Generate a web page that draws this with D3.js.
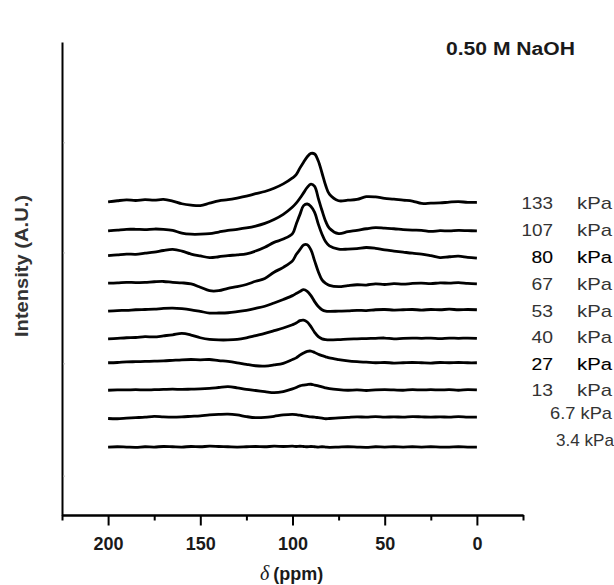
<!DOCTYPE html>
<html><head><meta charset="utf-8">
<script src="https://cdn.jsdelivr.net/npm/d3@7"></script>
<style>body{margin:0;background:#fff}</style>
</head><body><svg id="c" width="614" height="585"></svg>
<script>
// chemical shift grid (ppm)
const ppm = [200,195,190,185,180,175,170,165,160,155,150,145,140,135,130,125,120,115,110,105,
             100,98,96,94,92,90,88,86,84,82,80,
             75,70,65,60,55,50,45,40,35,30,25,20,15,10,5,0];
const pressures = ["133","107","80","67","53","40","27","13","6.7","3.4"];
const boldLabels = ["80","27"];
const offsets = [115,104.5,94.5,85,75.5,65,56,46,36,25];

// intensities (A.U.) relative to each spectrum's baseline
const s133 = [0.2,0.6,0.9,0.7,1.0,0.8,1.1,0.5,-0.5,-1.0,-1.2,-0.3,0.6,1.0,1.6,2.3,3.2,4.0,5.2,6.8,
              9.0,10.2,12.6,14.8,16.8,18.0,17.8,15.2,10.8,6.2,3.0,
              0.6,0.8,1.1,2.1,2.0,1.5,1.2,0.8,0.5,-0.4,-0.3,-0.2,0.1,0.3,0.0,0.0];
const s107 = [0.0,0.3,0.6,0.6,0.5,0.7,0.6,0.2,-0.8,-1.2,-1.2,-1.0,-0.4,0.2,0.6,1.1,1.8,2.8,4.2,6.1,
              8.8,10.2,12.0,14.0,16.0,17.2,16.4,12.0,7.5,3.5,1.0,
              -1.0,-0.3,0.2,0.8,1.2,1.0,0.8,0.5,0.3,0.2,-0.2,0.1,0.0,0.2,0.1,0.0];
const s80 = [0.9,1.2,1.5,1.4,1.8,2.2,2.8,3.2,2.6,1.5,0.8,0.2,0.5,0.9,1.2,1.6,2.6,4.0,5.8,7.0,
             9.0,12.5,16.0,19.3,19.9,19.0,16.8,12.5,8.8,6.0,4.5,
             3.3,3.3,3.5,3.9,3.6,3.0,2.6,2.2,1.8,1.5,0.9,0.2,0.5,0.7,0.3,0.0];
const s67 = [0.3,0.4,0.6,0.5,0.6,0.8,0.9,0.6,0.4,0.0,-1.2,-2.5,-2.5,-1.6,-1.0,-0.2,1.0,2.0,4.3,6.1,
             8.5,10.8,12.6,14.3,14.4,12.5,8.5,4.5,1.5,0.2,-0.5,
             -1.0,-0.6,-0.3,-0.4,0.0,-0.2,0.1,-0.1,0.2,0.3,0.1,0.4,0.3,0.5,0.2,0.0];
const s53 = [-0.5,-0.3,-0.2,0.0,0.1,0.2,0.5,0.6,0.4,0.0,-0.6,-1.2,-1.2,-1.1,-0.7,-0.2,0.5,1.3,2.5,3.8,
             5.2,6.0,6.7,7.4,6.8,5.2,3.0,1.2,0.0,-0.5,-0.6,
             -0.5,-0.4,-0.2,-0.3,0.0,0.1,-0.1,0.0,0.1,-0.1,0.1,0.0,0.2,0.0,0.1,0.0];
const s40 = [-0.2,0.0,0.2,0.3,0.6,0.5,0.9,1.3,1.8,1.2,0.2,-0.4,-0.6,-0.6,-0.4,0.2,1.0,1.8,2.8,3.8,
             5.0,5.6,6.5,6.7,6.0,4.3,2.2,0.6,-0.2,-0.5,-0.6,
             -0.5,-0.3,-0.2,-0.1,0.0,0.1,-0.2,0.0,0.1,0.0,0.1,-0.1,0.1,0.0,0.1,0.0];
const s27 = [0.0,0.1,0.3,0.4,0.5,0.6,0.7,0.9,1.1,1.2,1.1,1.2,0.8,0.5,0.0,-0.6,-1.1,-1.2,-0.8,-0.2,
             1.2,1.8,2.8,3.6,4.2,4.3,3.8,3.1,2.6,2.2,1.8,
             1.2,0.7,0.4,0.2,0.0,0.1,-0.1,0.0,0.1,0.0,-0.1,0.1,0.0,0.1,0.0,0.0];
const s13 = [-0.1,0.0,0.0,0.1,0.0,0.1,0.2,0.3,0.2,0.3,0.4,0.6,0.9,1.2,0.8,0.2,-0.2,-0.6,-1.0,-0.6,
             0.4,0.9,1.5,1.8,2.0,2.1,1.8,1.5,1.1,0.8,0.5,
             0.1,-0.1,0.0,-0.2,0.0,0.1,0.0,-0.1,0.1,0.0,0.1,0.0,0.1,-0.1,0.1,0.0];
const s6_7 = [-0.5,-0.6,-0.4,-0.2,0.0,0.3,0.1,0.0,0.1,0.3,0.5,0.8,1.0,1.1,0.8,0.2,-0.2,-0.1,0.3,0.8,
              1.0,0.9,0.7,0.5,0.3,0.1,0.0,-0.2,-0.4,-0.6,-0.5,
              -0.3,-0.1,0.1,0.0,0.2,0.0,0.1,0.0,0.2,0.1,0.0,0.1,0.0,0.2,0.0,0.0];
const s3_4 = [0.0,0.1,0.0,-0.1,0.1,0.0,0.2,0.1,0.0,0.2,0.1,0.3,0.2,0.1,0.0,0.1,0.2,0.1,0.3,0.2,
              0.3,0.2,0.3,0.2,0.1,0.2,0.1,0.0,0.1,0.0,-0.1,
              0.0,0.1,0.0,-0.1,0.1,0.0,0.1,0.0,0.1,0.0,0.1,0.0,0.0,0.1,0.0,0.0];
const spectra = [s133,s107,s80,s67,s53,s40,s27,s13,s6_7,s3_4];

const xTicksMajor = [200,150,100,50,0];
const xTicksMinor = [225,175,125,75,25,-25];
const yFaintTicks = [14.3,55.6,96.4,136.9];

const svg = d3.select("#c");
const x = d3.scaleLinear().domain([225,-25]).range([62,523]);
const y = d3.scaleLinear().domain([0,174]).range([515,42]);

// spectra
const line = d3.line().x(d=>x(d[0])).y(d=>y(d[1])).curve(d3.curveCatmullRom.alpha(0.5));
spectra.forEach((s,i)=>{
  const pts = ppm.map((p,j)=>[p, offsets[i]+s[j]]);
  svg.append("path").attr("d",line(pts)).attr("fill","none")
     .attr("stroke","#000").attr("stroke-width",2.8).attr("stroke-linejoin","round");
});

// axes
const gx = svg.append("g").attr("transform","translate(0,515)");
gx.call(d3.axisBottom(x).tickValues(xTicksMinor).tickSize(5.5).tickSizeOuter(0).tickFormat(""));
const gx2 = svg.append("g").attr("transform","translate(0,515)");
gx2.call(d3.axisBottom(x).tickValues(xTicksMajor).tickSize(10.5).tickSizeOuter(0).tickPadding(11.5).tickFormat(d3.format("d")));
[gx,gx2].forEach(g=>{
  g.selectAll("path,line").attr("stroke","#000").attr("stroke-width",2);
  g.selectAll("text").attr("font-family","Liberation Sans, Arial, sans-serif")
   .attr("font-size",18).attr("font-weight","bold").attr("fill","#1a1a1a");
});
const gy = svg.append("g").attr("transform","translate(62,0)");
gy.call(d3.axisLeft(y).tickValues([]).tickSizeOuter(0));
gy.select("path").attr("stroke","#000").attr("stroke-width",2);
gy.selectAll(".faint").data(yFaintTicks).enter().append("line")
  .attr("x1",1).attr("x2",3).attr("y1",d=>y(d)).attr("y2",d=>y(d))
  .attr("stroke","#bbb").attr("stroke-width",1);

// titles
const font = "Liberation Sans, Arial, sans-serif";
svg.append("text").attr("x",446).attr("y",55).attr("font-family",font)
   .attr("font-size",18).attr("font-weight","bold").attr("fill","#1a1a1a")
   .attr("textLength",129).attr("lengthAdjust","spacingAndGlyphs").text("0.50 M NaOH");

const xt = svg.append("text").attr("x",260).attr("y",580);
xt.append("tspan").attr("font-family","Liberation Serif, serif").attr("font-style","italic")
  .attr("font-size",20).attr("fill","#1a1a1a").text("δ");
xt.append("tspan").attr("dx",4).attr("font-family",font).attr("font-weight","bold")
  .attr("font-size",18).attr("fill","#1a1a1a").text("(ppm)");

svg.append("text").attr("transform","translate(28,266) rotate(-90)")
   .attr("text-anchor","middle").attr("font-family",font).attr("font-size",18)
   .attr("font-weight","bold").attr("fill","#333")
   .attr("textLength",142).attr("lengthAdjust","spacingAndGlyphs").text("Intensity (A.U.)");

// pressure labels
const labelY = [203,230,257,284,311,337,364,390,413,440];
pressures.forEach((p,i)=>{
  const b = boldLabels.includes(p);
  const g = svg.append("g").attr("font-family",font).attr("font-size",17)
     .attr("fill", b ? "#000" : "#333").attr("stroke", b ? "#000" : "none").attr("stroke-width",0.12);
  const by = labelY[i]+6;
  if (p.includes(".")) {
    const x0 = p==="6.7" ? 550 : 556;
    const w = p==="6.7" ? 62 : 58;
    g.append("text").attr("x",x0).attr("y",by)
     .attr("textLength",w).attr("lengthAdjust","spacingAndGlyphs").text(p+" kPa");
  } else {
    const w = p.length===3 ? 31.5 : 21.5;
    g.append("text").attr("x",553-w).attr("y",by)
     .attr("textLength",w).attr("lengthAdjust","spacingAndGlyphs").text(p);
    g.append("text").attr("x",577).attr("y",by)
     .attr("textLength",35).attr("lengthAdjust","spacingAndGlyphs").text("kPa");
  }
});
</script></body></html>
